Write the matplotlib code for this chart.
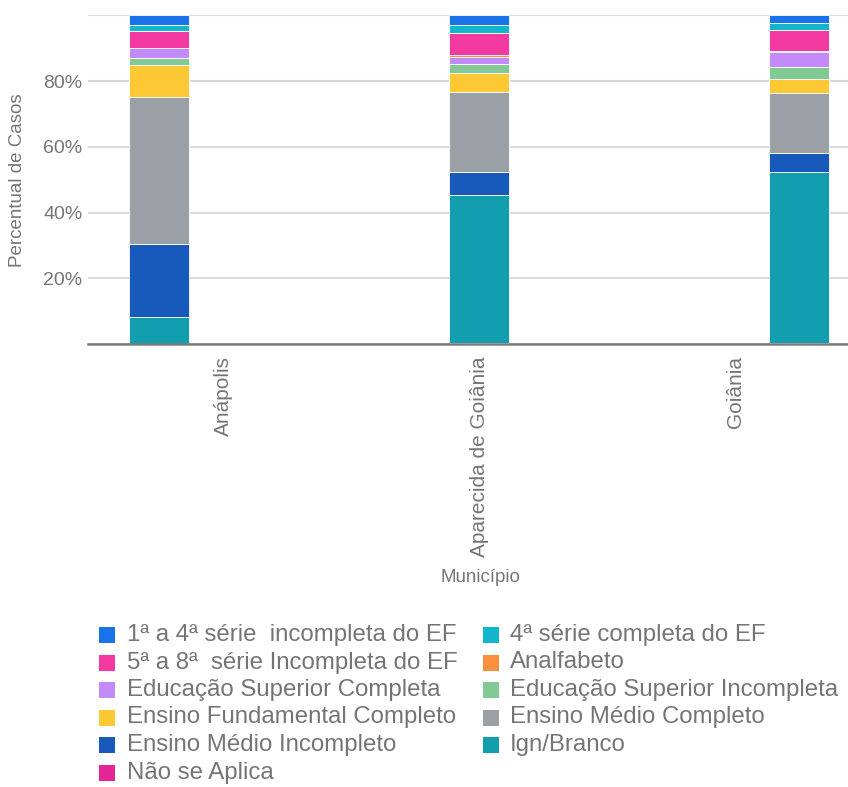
import matplotlib
matplotlib.use("Agg")
import matplotlib.pyplot as plt
from matplotlib.patches import Rectangle

plt.rcParams['font.family'] = ['Liberation Sans', 'DejaVu Sans']

municipios = ["Anápolis", "Aparecida de Goiânia", "Goiânia"]

series = [
    "1ª a 4ª série  incompleta do EF",
    "4ª série completa do EF",
    "5ª a 8ª  série Incompleta do EF",
    "Analfabeto",
    "Educação Superior Completa",
    "Educação Superior Incompleta",
    "Ensino Fundamental Completo",
    "Ensino Médio Completo",
    "Ensino Médio Incompleto",
    "Ign/Branco",
    "Não se Aplica",
]
colors = [
    "#1A73E8", "#12B5CB", "#F439A0", "#FA903E", "#C58AF9", "#81C995",
    "#FCC934", "#9AA0A6", "#185ABC", "#129EAF", "#E52592",
]

# percentages per municipality (Anápolis, Aparecida de Goiânia, Goiânia)
v_1a4 = [2.8, 2.8, 2.3]
v_4a = [2.1, 2.5, 2.2]
v_5a8 = [4.9, 6.9, 6.3]
v_analf = [0.0, 0.5, 0.5]
v_esc = [3.1, 2.0, 4.5]
v_esi = [2.3, 3.0, 3.5]
v_efc = [9.8, 5.6, 4.2]
v_emc = [44.5, 24.4, 18.5]
v_emi = [22.2, 7.1, 5.6]
v_ign = [8.3, 44.9, 52.2]
v_nao = [0.0, 0.3, 0.2]

values = [v_1a4, v_4a, v_5a8, v_analf, v_esc, v_esi, v_efc, v_emc, v_emi, v_ign, v_nao]

W, H = 848, 787
fig = plt.figure(figsize=(W / 100, H / 100), dpi=100)
ax = fig.add_axes([88 / W, 1 - 344 / H, (848 - 88) / W, (344 - 15.3) / H])

txt = "#757575"
x = list(range(len(municipios)))
bottoms = [0.0] * len(municipios)
# stack in reverse legend order (Não se Aplica at bottom)
for name, col, vals in reversed(list(zip(series, colors, values))):
    ax.bar(x, vals, bottom=bottoms, width=0.19, color=col,
           edgecolor="#ffffff", linewidth=0.6, zorder=3)
    bottoms = [b + v for b, v in zip(bottoms, vals)]

ax.set_xlim(-0.2219, 2.1531)
ax.set_ylim(0, 100)
ax.set_yticks([0, 20, 40, 60, 80, 100])
ax.set_yticklabels(["", "20%", "40%", "60%", "80%", ""])
ax.grid(axis="y", color="#dadada", linewidth=1.5, zorder=0)
ax.set_xticks([0.2, 1.0, 1.8])
ax.set_xticklabels(municipios, rotation=90, va="top", ha="center")
ax.tick_params(axis="y", length=0, pad=4, labelsize=14, labelcolor=txt)
ax.tick_params(axis="x", length=0, pad=9, labelsize=15, labelcolor=txt)
for s in ["top", "right", "left"]:
    ax.spines[s].set_visible(False)
ax.spines["bottom"].set_color("#7a7a7a")
ax.spines["bottom"].set_linewidth(1.8)
ax.spines["bottom"].set_zorder(4)

fig.text(18 / W, 1 - 180 / H, "Percentual de Casos", rotation=90,
         ha="center", va="center", fontsize=13.5, color=txt)
fig.text(480 / W, 1 - 578 / H, "Município", ha="center", va="center",
         fontsize=13.5, color=txt)

# legend, laid out row-wise in two columns
sq = 16
sq_x = [99, 483]
tx_x = [127, 510]
for i, (name, col) in enumerate(zip(series, colors)):
    r, c = divmod(i, 2)
    yc = 635 + 27.5 * r
    fig.patches.append(Rectangle((sq_x[c] / W, 1 - (yc + sq / 2) / H), sq / W, sq / H,
                                 transform=fig.transFigure, facecolor=col,
                                 edgecolor="none"))
    fig.text(tx_x[c] / W, 1 - yc / H, name, ha="left", va="center",
             fontsize=17.3, color=txt)

fig.savefig("out.png", dpi=100)
